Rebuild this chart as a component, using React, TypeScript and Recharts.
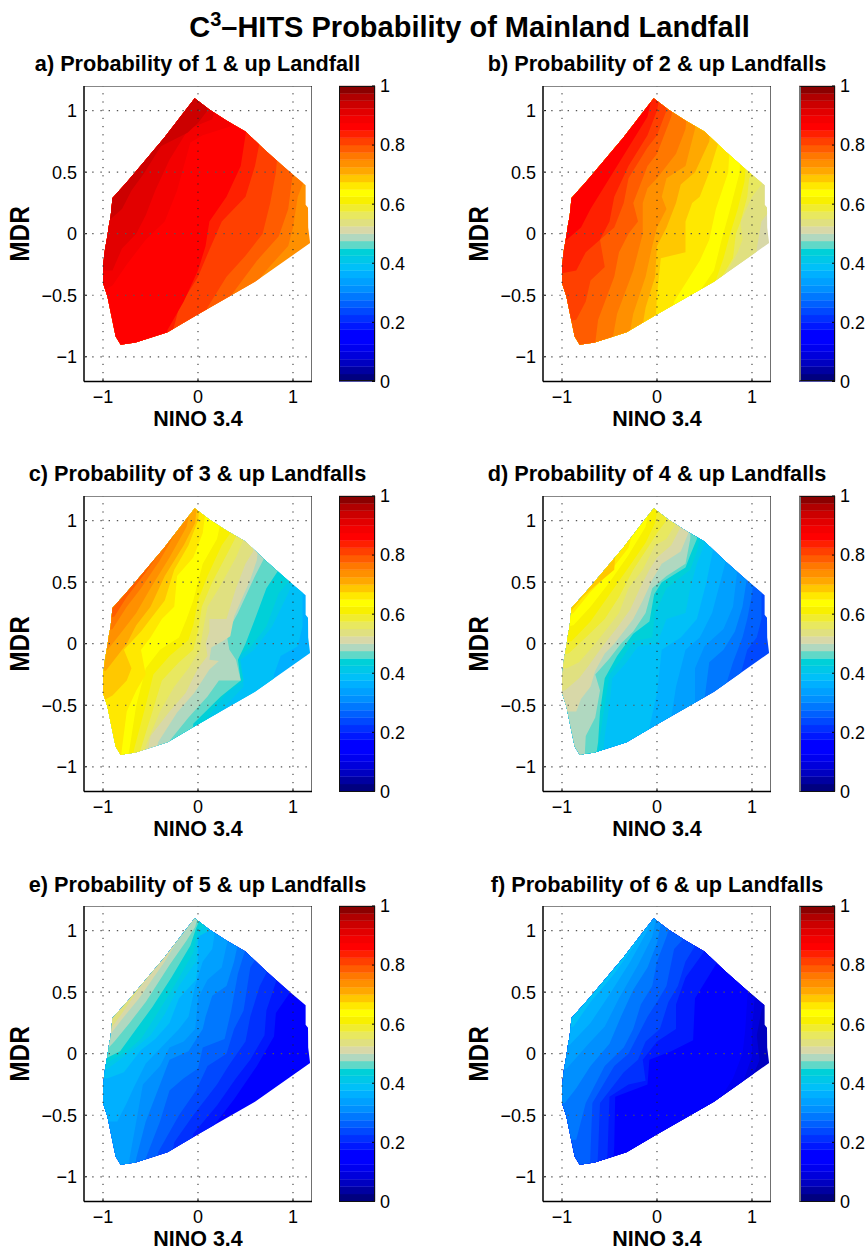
import React from "react";
import { ScatterChart, Scatter, XAxis, YAxis, BarChart, Bar } from "recharts";

type Pt = [number, number];
type Contour = [number, Pt[]];

const COLOR_LEVELS = ["#00007f","#0000a0","#0000c0","#0000dc","#0000f0","#0000ff","#0000ff","#0018ff","#0030ff","#0048ff","#0060ff","#0078ff","#0090ff","#00a0ff","#00b0ff","#00c0f8","#00c8e8","#00d0d8","#60d8c8","#b0d8c0","#d8d8a8","#e0e080","#e8e860","#f0ec30","#f8f000","#ffff00","#ffe800","#ffc800","#ffa800","#ff9000","#ff7800","#ff5c00","#ff4000","#ff2000","#ff0000","#f40000","#e20000","#cc0000","#b00000","#8b0000"];
const LEVEL_STEP = 0.025;
const X_TICKS = [-1, 0, 1];
const Y_TICKS = [-1, -0.5, 0, 0.5, 1];
const BAR_TICKS = [0, 0.2, 0.4, 0.6, 0.8, 1];
const AXIS_LIMIT = 1.2;

const HULL: Pt[] = [[-0.035,1.1],[0.12,1.01],[0.3,0.92],[0.5,0.83],[0.72,0.67],[0.94,0.52],[1.133,0.393],[1.133,0.236],[1.158,0.21],[1.16,0.05],[1.18,-0.076],[0.6,-0.39],[-0.007,-0.659],[-0.32,-0.8],[-0.656,-0.883],[-0.814,-0.902],[-0.867,-0.835],[-0.954,-0.51],[-1.0,-0.4],[-1.0,-0.265],[-0.98,-0.13],[-0.958,-0.035],[-0.937,0.073],[-0.92,0.14],[-0.9,0.29],[-0.744,0.425],[-0.358,0.778]];

const CONTOURS_A: Contour[] = [
[30,[[0.3,-1.2],[0.45,-0.55],[0.75,-0.27],[0.95,-0.1],[1.0,0.05],[1.05,0.3],[1.1,0.4],[1.2,0.5]]],
[31,[[0.2,-1.2],[0.35,-0.5],[0.62,-0.22],[0.85,-0.02],[0.95,0.2],[0.98,0.38],[1.0,0.5],[1.05,1.2]]],
[32,[[-0.05,-1.2],[0.1,-0.6],[0.3,-0.35],[0.5,-0.18],[0.68,0],[0.76,0.25],[0.82,0.5],[0.84,0.68],[0.9,1.2]]],
[33,[[-0.4,-1.2],[-0.2,-0.6],[0,-0.35],[0.12,-0.13],[0.25,0.1],[0.5,0.3],[0.6,0.55],[0.65,0.75],[0.7,1.2]]],
[34,[[-0.45,-1.2],[-0.32,-0.78],[-0.15,-0.55],[0,-0.3],[0.08,-0.1],[0.12,0.1],[0.3,0.3],[0.45,0.55],[0.5,0.8],[0.55,1.2]]],
[35,[[-1.2,-0.55],[-0.9,-0.42],[-0.75,-0.25],[-0.55,-0.05],[-0.35,0.1],[-0.22,0.35],[-0.08,0.74],[0.05,0.8],[0.34,0.87],[0.4,1.2]]],
[36,[[-1.2,-0.3],[-0.9,-0.3],[-0.8,-0.12],[-0.65,0],[-0.55,0.15],[-0.45,0.35],[-0.3,0.6],[-0.1,0.85],[0.15,0.93],[0.25,1.2]]],
[37,[[-1.2,0.1],[-0.95,0.1],[-0.8,0.2],[-0.7,0.35],[-0.57,0.49],[-0.39,0.71],[-0.11,0.82],[0,0.9],[0.1,1.0],[0.1,1.2]]],
];
const CONTOURS_B: Contour[] = [
[21,[[1.0,-1.2],[1.05,-0.12],[1.1,0.1],[1.2,0.2]]],
[22,[[0.62,-1.2],[0.72,-0.33],[0.85,-0.15],[0.9,-0.05],[0.88,0.1],[1.0,0.3],[1.1,0.4],[1.2,0.6]]],
[23,[[0.55,-1.2],[0.66,-0.38],[0.8,-0.2],[0.83,0],[0.88,0.1],[0.95,0.3],[0.97,0.45],[1.2,0.7]]],
[24,[[0.5,-1.2],[0.6,-0.42],[0.7,-0.2],[0.77,0],[0.85,0.2],[0.92,0.42],[1.0,1.2]]],
[25,[[0.3,-1.2],[0.42,-0.5],[0.6,-0.3],[0.68,-0.05],[0.77,0.2],[0.87,0.5],[0.9,1.2]]],
[26,[[0.1,-1.2],[0.18,-0.55],[0.32,-0.38],[0.45,-0.22],[0.55,-0.05],[0.62,0.2],[0.75,0.5],[0.8,1.2]]],
[27,[[-0.05,-1.2],[0,-0.5],[0.04,-0.2],[0.3,-0.15],[0.3,0.1],[0.37,0.25],[0.45,0.3],[0.55,0.5],[0.65,0.75],[0.7,1.2]]],
[28,[[-0.25,-1.2],[-0.12,-0.6],[-0.02,-0.35],[0,-0.1],[0.1,0.05],[0.2,0.25],[0.25,0.4],[0.4,0.5],[0.55,0.75],[0.6,1.2]]],
[29,[[-0.38,-1.2],[-0.25,-0.65],[-0.12,-0.35],[-0.05,-0.1],[0,0.05],[0.1,0.2],[0.05,0.3],[0.1,0.45],[0.3,0.55],[0.4,0.85],[0.45,1.2]]],
[30,[[-0.55,-1.2],[-0.42,-0.65],[-0.25,-0.3],[-0.15,0],[-0.15,0.25],[-0.1,0.37],[0,0.45],[0.2,0.65],[0.3,0.85],[0.35,1.2]]],
[31,[[-0.7,-1.2],[-0.62,-0.7],[-0.45,-0.35],[-0.4,-0.15],[-0.3,0],[-0.2,0.1],[-0.25,0.25],[-0.1,0.55],[0,0.65],[0.15,0.95],[0.2,1.2]]],
[32,[[-1.2,-0.75],[-0.85,-0.7],[-0.75,-0.55],[-0.7,-0.38],[-0.55,-0.27],[-0.6,-0.05],[-0.45,0.05],[-0.35,0.25],[-0.3,0.45],[-0.1,0.7],[0,0.8],[0.1,1.0],[0.1,1.2]]],
[33,[[-1.2,-0.35],[-0.85,-0.3],[-0.75,-0.15],[-0.6,-0.05],[-0.5,0.1],[-0.45,0.3],[-0.3,0.55],[-0.1,0.8],[0,1.0],[0.05,1.2]]],
[34,[[-1.2,-0.15],[-0.95,-0.05],[-0.8,0.05],[-0.7,0.2],[-0.5,0.45],[-0.3,0.7],[-0.1,0.95],[-0.03,1.2]]],
];
const CONTOURS_C: Contour[] = [
[15,[[0.75,-1.2],[0.8,-0.25],[0.87,-0.1],[1.05,-0.02],[1.1,0.14],[1.1,0.4],[1.2,0.5]]],
[16,[[0.1,-1.2],[0.15,-0.62],[0.48,-0.35],[0.45,-0.13],[0.59,-0.05],[0.78,0.14],[0.95,0.41],[1.05,0.6],[1.1,1.2]]],
[17,[[0.05,-1.2],[0.1,-0.6],[0.3,-0.4],[0.48,-0.3],[0.43,-0.1],[0.55,-0.03],[0.72,0.14],[0.85,0.41],[0.97,0.52],[1.0,1.2]]],
[18,[[-0.1,-1.2],[-0.05,-0.65],[0.24,-0.43],[0.45,-0.3],[0.42,-0.13],[0.5,0],[0.6,0.2],[0.72,0.45],[0.85,0.6],[0.9,1.2]]],
[19,[[-0.35,-1.2],[-0.29,-0.78],[-0.1,-0.6],[0.1,-0.43],[0.22,-0.3],[0.45,-0.3],[0.4,-0.13],[0.33,-0.05],[0.3,0.08],[0.42,0.25],[0.6,0.55],[0.7,0.7],[0.75,1.2]]],
[20,[[-0.5,-1.2],[-0.42,-0.8],[-0.22,-0.56],[-0.04,-0.4],[0.12,-0.21],[0.22,-0.14],[0.12,-0.13],[0.14,-0.03],[0.26,0.02],[0.34,0.06],[0.38,0.22],[0.55,0.52],[0.62,0.68],[0.68,1.2]]],
[21,[[-0.6,-1.2],[-0.5,-0.75],[-0.3,-0.55],[-0.13,-0.4],[0,-0.2],[0.1,-0.1],[0.08,0],[0.12,0.1],[0.12,0.2],[0.3,0.2],[0.4,0.45],[0.5,0.65],[0.58,0.75],[0.6,1.2]]],
[22,[[-0.65,-1.2],[-0.55,-0.83],[-0.4,-0.55],[-0.25,-0.35],[-0.1,-0.2],[0.02,-0.05],[0.05,0.1],[0.1,0.3],[0.22,0.45],[0.4,0.7],[0.48,0.85],[0.5,1.2]]],
[23,[[-0.7,-1.2],[-0.6,-0.85],[-0.48,-0.55],[-0.38,-0.3],[-0.2,-0.15],[-0.05,-0.05],[0,0.1],[0.04,0.3],[0.15,0.5],[0.32,0.75],[0.42,0.9],[0.45,1.2]]],
[24,[[-0.75,-1.2],[-0.67,-0.85],[-0.55,-0.5],[-0.47,-0.25],[-0.3,-0.1],[-0.1,0.03],[-0.05,0.15],[0,0.35],[0.1,0.55],[0.25,0.8],[0.37,0.93],[0.4,1.2]]],
[25,[[-0.8,-1.2],[-0.72,-0.85],[-0.65,-0.5],[-0.55,-0.2],[-0.4,-0.05],[-0.2,0.05],[-0.12,0.2],[-0.05,0.35],[0.05,0.65],[0.2,0.85],[0.3,1.2]]],
[26,[[-0.85,-1.2],[-0.8,-0.85],[-0.75,-0.55],[-0.65,-0.38],[-0.55,-0.25],[-0.6,-0.05],[-0.5,0.05],[-0.38,0.2],[-0.25,0.3],[-0.22,0.55],[-0.05,0.7],[0.05,0.9],[0.1,1.2]]],
[27,[[-1.2,-0.55],[-0.9,-0.42],[-0.75,-0.3],[-0.7,-0.2],[-0.78,-0.05],[-0.6,0.1],[-0.5,0.2],[-0.35,0.35],[-0.25,0.6],[-0.1,0.8],[0,1.0],[0.03,1.2]]],
[28,[[-1.2,-0.25],[-0.97,-0.22],[-0.85,-0.1],[-0.75,0],[-0.65,0.15],[-0.5,0.3],[-0.35,0.55],[-0.15,0.8],[-0.03,0.98],[0,1.2]]],
[29,[[-1.2,-0.1],[-0.95,-0.05],[-0.8,0.1],[-0.65,0.25],[-0.5,0.45],[-0.3,0.7],[-0.12,0.95],[-0.05,1.2]]],
[30,[[-1.2,0.05],[-0.9,0.12],[-0.75,0.3],[-0.6,0.45],[-0.4,0.68],[-0.2,0.95],[-0.08,1.2]]],
[31,[[-1.2,0.15],[-0.88,0.22],[-0.75,0.38],[-0.55,0.58],[-0.35,0.8],[-0.2,1.2]]],
];
const CONTOURS_D: Contour[] = [
[10,[[0.85,-1.2],[0.88,-0.25],[0.95,-0.05],[1.05,0.05],[1.1,0.2],[1.1,0.4],[1.2,0.5]]],
[11,[[0.7,-1.2],[0.72,-0.35],[0.8,-0.15],[0.9,0.05],[0.95,0.2],[1.0,0.4],[1.1,1.2]]],
[12,[[0.45,-1.2],[0.5,-0.45],[0.55,-0.15],[0.7,-0.05],[0.82,0.1],[0.9,0.3],[0.95,0.55],[1,1.2]]],
[13,[[0.3,-1.2],[0.4,-0.5],[0.4,-0.2],[0.5,-0.02],[0.7,0.12],[0.8,0.3],[0.85,0.63],[0.9,1.2]]],
[14,[[0.1,-1.2],[0.15,-0.6],[0.2,-0.35],[0.3,-0.05],[0.45,0.05],[0.58,0.25],[0.7,0.6],[0.75,0.75],[0.8,1.2]]],
[15,[[-0.1,-1.2],[-0.08,-0.68],[0,-0.4],[0.05,-0.05],[0.25,0.05],[0.42,0.2],[0.52,0.5],[0.6,0.8],[0.65,1.2]]],
[16,[[-0.6,-1.2],[-0.55,-0.75],[-0.5,-0.5],[-0.47,-0.28],[-0.32,-0.15],[-0.2,-0.02],[0,0],[0.1,0.2],[0.3,0.25],[0.35,0.45],[0.42,0.65],[0.52,0.85],[0.55,1.2]]],
[17,[[-0.65,-1.2],[-0.6,-0.75],[-0.55,-0.5],[-0.5,-0.25],[-0.35,-0.1],[-0.25,0.02],[-0.05,0.05],[-0.02,0.25],[0.1,0.45],[0.35,0.6],[0.42,0.75],[0.45,0.85],[0.5,1.2]]],
[18,[[-0.7,-1.2],[-0.62,-0.8],[-0.6,-0.55],[-0.55,-0.28],[-0.42,-0.1],[-0.25,0.08],[-0.08,0.18],[-0.03,0.4],[0.05,0.5],[0.3,0.62],[0.35,0.72],[0.42,0.85],[0.45,1.2]]],
[19,[[-0.78,-1.2],[-0.75,-0.75],[-0.65,-0.6],[-0.6,-0.38],[-0.65,-0.25],[-0.5,-0.12],[-0.38,0],[-0.25,0.1],[-0.12,0.25],[-0.05,0.45],[0.1,0.55],[0.3,0.65],[0.35,0.85],[0.37,1.2]]],
[20,[[-1.2,-0.55],[-0.85,-0.55],[-0.8,-0.45],[-0.7,-0.35],[-0.65,-0.22],[-0.55,-0.08],[-0.45,0],[-0.35,0.1],[-0.25,0.2],[-0.15,0.35],[-0.05,0.52],[0.05,0.65],[0.25,0.75],[0.33,0.9],[0.35,1.2]]],
[21,[[-1.2,-0.4],[-0.97,-0.38],[-0.82,-0.28],[-0.72,-0.18],[-0.6,-0.05],[-0.5,0.05],[-0.4,0.15],[-0.28,0.28],[-0.18,0.45],[-0.08,0.6],[0,0.7],[0.15,0.8],[0.25,0.95],[0.28,1.2]]],
[22,[[-1.2,-0.2],[-0.95,-0.2],[-0.82,-0.15],[-0.65,0],[-0.55,0.1],[-0.4,0.25],[-0.3,0.45],[-0.15,0.6],[-0.02,0.8],[0.1,0.85],[0.2,0.98],[0.22,1.2]]],
[23,[[-1.2,-0.1],[-0.93,-0.08],[-0.75,0.05],[-0.55,0.2],[-0.4,0.38],[-0.25,0.6],[-0.08,0.8],[0,0.9],[0.1,1.0],[0.12,1.2]]],
[24,[[-1.2,0],[-0.9,0.02],[-0.7,0.18],[-0.5,0.4],[-0.3,0.62],[-0.12,0.82],[-0.02,0.98],[0.03,1.2]]],
[25,[[-1.2,0.1],[-0.88,0.15],[-0.7,0.3],[-0.5,0.5],[-0.3,0.72],[-0.12,0.95],[-0.05,1.2]]],
[26,[[-1.2,0.15],[-0.88,0.25],[-0.7,0.42],[-0.5,0.58],[-0.3,0.78],[-0.15,1.2]]],
[27,[[-1.2,0.22],[-0.9,0.27],[-0.78,0.38],[-0.65,0.47],[-0.45,0.6],[-0.4,1.2]]],
];
const CONTOURS_E: Contour[] = [
[7,[[0,-1.2],[0.1,-0.65],[0.38,-0.37],[0.62,-0.1],[0.8,0.14],[0.82,0.33],[0.97,0.5],[1.05,1.2]]],
[8,[[-0.1,-1.2],[-0.05,-0.65],[0.2,-0.42],[0.4,-0.2],[0.55,-0.05],[0.7,0.15],[0.72,0.35],[0.85,0.65],[0.9,1.2]]],
[9,[[-0.35,-1.2],[-0.25,-0.72],[-0.05,-0.5],[0.2,-0.25],[0.32,-0.1],[0.5,0.1],[0.55,0.3],[0.65,0.55],[0.75,0.7],[0.8,1.2]]],
[10,[[-0.45,-1.2],[-0.42,-0.8],[-0.2,-0.5],[-0.02,-0.3],[0.1,-0.1],[0.3,0],[0.38,0.2],[0.48,0.35],[0.55,0.7],[0.65,0.82],[0.7,1.2]]],
[11,[[-0.6,-1.2],[-0.55,-0.85],[-0.4,-0.55],[-0.3,-0.3],[-0.15,-0.2],[0,-0.12],[0.05,0.05],[0.28,0.12],[0.35,0.35],[0.42,0.65],[0.5,0.85],[0.55,1.2]]],
[12,[[-0.7,-1.2],[-0.65,-0.85],[-0.55,-0.55],[-0.4,-0.25],[-0.3,-0.05],[-0.1,0.02],[0.05,0.2],[0.08,0.3],[0.15,0.47],[0.3,0.55],[0.38,0.75],[0.43,0.93],[0.45,1.2]]],
[13,[[-0.75,-1.2],[-0.72,-0.85],[-0.65,-0.55],[-0.58,-0.25],[-0.4,-0.1],[-0.3,0.05],[-0.15,0.1],[-0.03,0.2],[0,0.45],[0.1,0.6],[0.25,0.7],[0.32,0.95],[0.35,1.2]]],
[14,[[-1.2,-0.55],[-0.85,-0.55],[-0.75,-0.4],[-0.68,-0.28],[-0.55,-0.08],[-0.35,0.08],[-0.2,0.2],[-0.1,0.3],[-0.03,0.55],[0.05,0.75],[0.15,0.85],[0.22,1.2]]],
[15,[[-1.2,-0.2],[-0.95,-0.2],[-0.78,-0.15],[-0.6,0.03],[-0.45,0.12],[-0.3,0.25],[-0.2,0.45],[-0.02,0.6],[0,0.75],[0,0.95],[0.1,1.0],[0.15,1.2]]],
[16,[[-1.2,-0.15],[-0.95,-0.12],[-0.7,0.02],[-0.5,0.15],[-0.35,0.32],[-0.2,0.55],[-0.02,0.75],[0,0.95],[0.12,1.0],[0.12,1.2]]],
[17,[[-1.2,-0.1],[-0.97,-0.08],[-0.75,0.02],[-0.6,0.12],[-0.45,0.3],[-0.25,0.55],[-0.05,0.82],[0,1.0],[0.1,1.05],[0.1,1.2]]],
[18,[[-1.2,-0.03],[-0.95,-0.03],[-0.82,0.02],[-0.65,0.2],[-0.48,0.38],[-0.28,0.62],[-0.08,0.88],[-0.02,1.02],[0.08,1.2]]],
[19,[[-1.2,0.03],[-0.95,0.04],[-0.88,0.1],[-0.72,0.25],[-0.55,0.42],[-0.3,0.72],[-0.12,0.92],[-0.03,1.03],[0.03,1.2]]],
[20,[[-1.2,0.13],[-0.92,0.16],[-0.8,0.28],[-0.62,0.45],[-0.35,0.75],[-0.15,1.0],[-0.05,1.08],[0,1.2]]],
[21,[[-1.2,0.22],[-0.9,0.22],[-0.78,0.35],[-0.6,0.55],[-0.42,0.72],[-0.15,1.2]]],
];
const CONTOURS_F: Contour[] = [
[3,[[0.95,-1.2],[1.0,-0.2],[1.08,-0.05],[1.05,0.15],[1.1,0.35],[1.2,0.5]]],
[4,[[0.7,-1.2],[0.8,-0.4],[0.92,-0.2],[1.0,-0.02],[1.0,0.2],[1.02,0.38],[1.1,1.2]]],
[5,[[0.55,-1.2],[0.62,-0.42],[0.8,-0.2],[0.9,0],[0.93,0.2],[0.95,0.45],[1.05,1.2]]],
[7,[[-0.48,-1.2],[-0.45,-0.75],[-0.44,-0.35],[-0.1,-0.25],[-0.08,-0.05],[0.15,0.02],[0.38,0.11],[0.4,0.45],[0.6,0.7],[0.75,0.9],[0.8,1.2]]],
[8,[[-0.55,-1.2],[-0.52,-0.8],[-0.5,-0.35],[-0.3,-0.25],[-0.12,-0.22],[-0.15,-0.05],[0,0.1],[0.2,0.2],[0.2,0.4],[0.3,0.62],[0.45,0.78],[0.55,0.9],[0.6,1.2]]],
[9,[[-0.65,-1.2],[-0.62,-0.8],[-0.6,-0.4],[-0.35,-0.15],[-0.2,-0.05],[-0.12,0.1],[0.03,0.2],[0.12,0.42],[0.22,0.55],[0.3,0.75],[0.42,0.9],[0.47,1.2]]],
[10,[[-0.72,-1.2],[-0.7,-0.8],[-0.68,-0.4],[-0.45,-0.1],[-0.3,0],[-0.2,0.15],[-0.1,0.3],[0,0.42],[0.1,0.55],[0.18,0.85],[0.3,0.95],[0.35,1.2]]],
[11,[[-1.2,-0.7],[-0.85,-0.7],[-0.75,-0.4],[-0.55,-0.1],[-0.35,0.05],[-0.25,0.2],[-0.17,0.4],[-0.05,0.55],[0,0.75],[0.1,0.95],[0.2,1.2]]],
[12,[[-1.2,-0.42],[-0.97,-0.4],[-0.85,-0.28],[-0.7,-0.1],[-0.5,0.08],[-0.38,0.3],[-0.25,0.52],[-0.1,0.7],[0,0.9],[0.08,1.2]]],
[13,[[-1.2,-0.15],[-0.95,-0.12],[-0.72,0.08],[-0.55,0.22],[-0.4,0.45],[-0.2,0.72],[-0.05,0.95],[0.02,1.2]]],
[14,[[-1.2,0.05],[-0.92,0.07],[-0.7,0.25],[-0.5,0.48],[-0.28,0.75],[-0.1,1.0],[-0.02,1.2]]],
[15,[[-1.2,0.18],[-0.88,0.22],[-0.7,0.42],[-0.45,0.65],[-0.22,0.9],[-0.1,1.2]]],
];

const PANEL_TITLES = ["a) Probability of 1 & up Landfall","b) Probability of 2 & up Landfalls","c) Probability of 3 & up Landfalls","d) Probability of 4 & up Landfalls","e) Probability of 5 & up Landfalls","f) Probability of 6 & up Landfalls"];
const PANEL_BASE_LEVELS = [29, 20, 14, 9, 5, 2];
const PANEL_CONTOURS = [CONTOURS_A, CONTOURS_B, CONTOURS_C, CONTOURS_D, CONTOURS_E, CONTOURS_F];

const FONT = "'Liberation Sans', Arial, Helvetica, sans-serif";
const TOPS = [86, 86, 496.3, 496.3, 906.3, 906.3];
const LEFTS = [83.5, 543, 83.5, 543, 83.5, 543];
const PW = 228, PH = 295.4;
const fmt = (v: number) => (v < 0 ? "\u2212" + Math.abs(v) : String(v));
const toXY = (p: Pt[]) => p.map(([x, y]) => ({ x, y }));
const noDot = () => <g />;
const ptStr = (pts: { x: number; y: number }[]) => pts.map((p) => `${p.x},${p.y}`).join(" ");

function bandPoints(pts: Pt[]): Pt[] {
  return [...pts, [AXIS_LIMIT, AXIS_LIMIT], [-AXIS_LIMIT, AXIS_LIMIT], [-AXIS_LIMIT, -AXIS_LIMIT]];
}

function Panel({ i }: { i: number }) {
  const ml = 60, mt = 6, mb = 58, mr = 10;
  const clip = `hull-${i}`;
  const tick = { fontFamily: FONT, fontSize: 18, fill: "#000" };
  const line = (data: Pt[], k: string, stroke: string, w: number, dash?: string) => (
    <Scatter key={k} data={toXY(data)} dataKey="y" isAnimationActive={false} shape={noDot}
      line={(p: any) => <polyline points={ptStr(p.points)} fill="none" stroke={stroke} strokeWidth={w} strokeDasharray={dash} />} />
  );
  return (
    <div style={{ position: "absolute", left: LEFTS[i] - ml, top: TOPS[i] - mt }}>
      <ScatterChart width={PW + ml + mr} height={PH + mt + mb} margin={{ left: 0, right: mr, top: mt, bottom: 0 }}>
        <XAxis type="number" dataKey="x" domain={[-AXIS_LIMIT, AXIS_LIMIT]} ticks={X_TICKS} allowDataOverflow height={mb}
          tick={tick} tickFormatter={fmt} tickSize={-3} tickMargin={12} axisLine={{ stroke: "#000", strokeWidth: 1.5 }} tickLine={{ stroke: "#000" }}
          label={{ value: "NINO 3.4", position: "insideBottom", offset: 13, style: { fontFamily: FONT, fontSize: 21.5, fontWeight: "bold", fill: "#000" } }} />
        <YAxis type="number" dataKey="y" domain={[-AXIS_LIMIT, AXIS_LIMIT]} ticks={Y_TICKS} allowDataOverflow width={ml}
          tick={tick} tickFormatter={fmt} tickSize={-3} tickMargin={10} axisLine={{ stroke: "#000", strokeWidth: 1.5 }} tickLine={{ stroke: "#000" }} />
        <Scatter data={toXY(HULL)} dataKey="y" isAnimationActive={false} shape={noDot}
          line={(p: any) => (
            <g>
              <defs><clipPath id={clip}><polygon points={ptStr(p.points)} /></clipPath></defs>
              <polygon points={ptStr(p.points)} fill={COLOR_LEVELS[PANEL_BASE_LEVELS[i]]} stroke="none" />
            </g>
          )} />
        {PANEL_CONTOURS[i].map(([level, pts], k) => (
          <Scatter key={`c${k}`} data={toXY(bandPoints(pts))} dataKey="y" isAnimationActive={false} shape={noDot}
            line={(p: any) => <polygon points={ptStr(p.points)} fill={COLOR_LEVELS[level]} stroke="none" clipPath={`url(#${clip})`} />} />
        ))}
        {X_TICKS.map((v) => line([[v, -AXIS_LIMIT], [v, AXIS_LIMIT]], `gx${v}`, "#222", 1, "1.2 7"))}
        {Y_TICKS.map((v) => line([[-AXIS_LIMIT, v], [AXIS_LIMIT, v]], `gy${v}`, "#555", 1.2, "1.4 6.8"))}
        {line([[-AXIS_LIMIT, AXIS_LIMIT], [AXIS_LIMIT, AXIS_LIMIT], [AXIS_LIMIT, -AXIS_LIMIT]], "frame", "#111", 1.2)}
      </ScatterChart>
      <div style={{ position: "absolute", left: ml - 64, top: mt + PH / 2, transform: "translate(-50%,-50%) rotate(-90deg) scaleX(0.87)", fontFamily: FONT, fontWeight: "bold", fontSize: 28, lineHeight: "28px", whiteSpace: "nowrap" }}>MDR</div>
    </div>
  );
}

const BAR_ROW = [Object.fromEntries([["name", "levels"], ...COLOR_LEVELS.map((_, k) => [`l${k}`, LEVEL_STEP])])];

function ColorBar({ i }: { i: number }) {
  const w = 36, mt = 14;
  const left = LEFTS[i] + 255.5;
  const right = i % 2 === 1;
  return (
    <div style={{ position: "absolute", left, top: TOPS[i] - mt }}>
      <BarChart width={w + 45} height={PH + mt + 14} data={BAR_ROW} barCategoryGap={0} margin={{ left: 0, right: 0, top: mt, bottom: 14 }}>
        <XAxis dataKey="name" hide />
        <YAxis orientation="right" type="number" domain={[0, 1]} ticks={BAR_TICKS} width={45} interval={0}
          tick={{ fontFamily: FONT, fontSize: 18, fill: "#000" }} tickSize={-3} tickMargin={8} axisLine={false} tickLine={{ stroke: "#000" }} />
        {COLOR_LEVELS.map((c, k) => (
          <Bar key={k} dataKey={`l${k}`} stackId="s" fill={c} stroke={c} strokeWidth={0.4} isAnimationActive={false} />
        ))}
      </BarChart>
      <div style={{ position: "absolute", left: 0, top: mt, width: w, height: PH, boxSizing: "border-box", border: "1.2px solid #111", borderLeft: right ? "2px solid #777" : "1.2px solid #111" }} />
    </div>
  );
}

const TITLE_CENTERS = [197.5, 657, 197.5, 657, 197.5, 657];
const TITLE_TOPS = [52, 52, 462, 462, 873, 873];

export default function App() {
  return (
    <div style={{ position: "absolute", left: 0, top: 0, width: 866, height: 1250, background: "#fff", overflow: "hidden", fontFamily: FONT }}>
      <div style={{ position: "absolute", left: 0, width: 939, top: 10, textAlign: "center", fontWeight: "bold", fontSize: 29, whiteSpace: "nowrap", lineHeight: "34px" }}>
        C<sup style={{ fontSize: 20, lineHeight: 0 }}>3</sup>{"\u2013HITS Probability of Mainland Landfall"}
      </div>
      {PANEL_TITLES.map((t, i) => (
        <div key={t} style={{ position: "absolute", left: TITLE_CENTERS[i] - 200, width: 400, top: TITLE_TOPS[i], textAlign: "center", fontWeight: "bold", fontSize: 21.7, lineHeight: "24px", whiteSpace: "nowrap" }}>{t}</div>
      ))}
      {PANEL_TITLES.map((_, i) => <Panel key={i} i={i} />)}
      {PANEL_TITLES.map((_, i) => <ColorBar key={i} i={i} />)}
    </div>
  );
}
